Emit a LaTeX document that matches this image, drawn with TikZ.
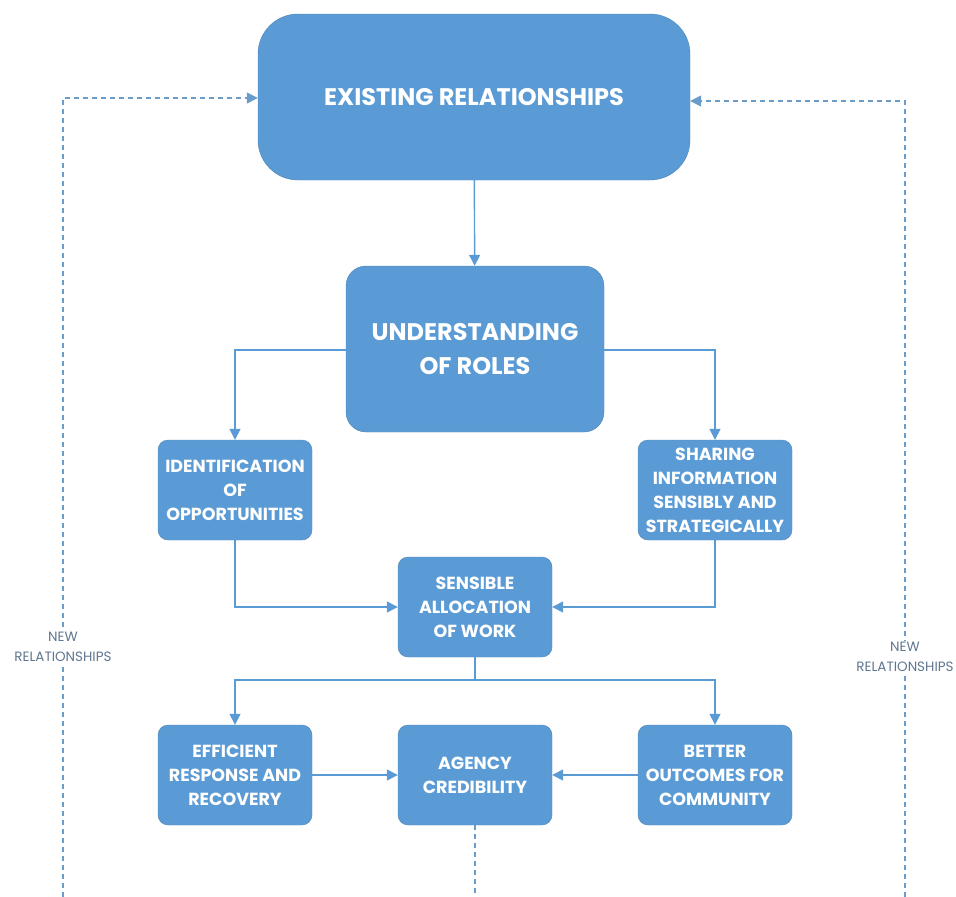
\documentclass[tikz,border=0pt]{standalone}
\usepackage{fontspec}
\setmainfont{Poppins}
\usetikzlibrary{arrows.meta}
\definecolor{boxblue}{HTML}{5B9BD5}
\definecolor{lineblue}{HTML}{5B9BD5}
\definecolor{dashblue}{HTML}{6A9CCB}
\definecolor{lblgray}{HTML}{5F7790}
\tikzset{
  bigbox/.style={fill=boxblue, draw=boxblue!85!black, line width=0.4pt, text=white, font=\bfseries\fontsize{24}{34}\selectfont, align=center, inner sep=0pt},
  smallbox/.style={fill=boxblue, draw=boxblue!85!black, line width=0.4pt, rounded corners=10pt, text=white, font=\bfseries\fontsize{17.5}{24}\selectfont, align=center, inner sep=0pt, minimum width=154pt, minimum height=100pt},
  conn/.style={draw=lineblue, line width=1.4pt, -{Triangle[length=11pt,width=11pt]}},
  dconn/.style={draw=dashblue, line width=1.4pt, dash pattern=on 5pt off 4pt},
  lbl/.style={fill=white, text=lblgray, font=\fontsize{13.5}{20}\selectfont, align=center, inner sep=1pt}
}
\begin{document}
\begin{tikzpicture}[x=1pt,y=-1pt]
\useasboundingbox (0,0) rectangle (956,897);
% boxes
\node[bigbox, rounded corners=40pt, minimum width=432pt, minimum height=166pt] (exist) at (474,97) {EXISTING RELATIONSHIPS};
\node[bigbox, rounded corners=20pt, minimum width=258pt, minimum height=166pt] (under) at (475,349) {UNDERSTANDING\\OF ROLES};
\node[smallbox] (ident) at (235,490) {IDENTIFICATION\\OF\\OPPORTUNITIES};
\node[smallbox] (share) at (715,490) {SHARING\\INFORMATION\\SENSIBLY AND\\STRATEGICALLY};
\node[smallbox] (sens) at (475,607) {SENSIBLE\\ALLOCATION\\OF WORK};
\node[smallbox] (eff) at (235,775) {EFFICIENT\\RESPONSE AND\\RECOVERY};
\node[smallbox] (agency) at (475,775) {AGENCY\\CREDIBILITY};
\node[smallbox] (better) at (715,775) {BETTER\\OUTCOMES FOR\\COMMUNITY};
% helper coordinates
\coordinate (bl) at (63,897);
\coordinate (bc) at (475,897);
\coordinate (br) at (905,897);
\coordinate (split) at (475,680);
% solid connectors
\draw[conn] (exist) -- (under);
\draw[conn] (under.west |- 0,350) -| (ident.north);
\draw[conn] (under.east |- 0,350) -| (share.north);
\draw[conn] (ident.south) |- (sens.west);
\draw[conn] (share.south) |- (sens.east);
\draw[draw=lineblue, line width=1.4pt] (sens.south) -- (split);
\draw[conn] (split) -| (eff.north);
\draw[conn] (split) -| (better.north);
\draw[conn] (eff) -- (agency);
\draw[conn] (better) -- (agency);
% dashed feedback
\draw[dconn] (agency.south) -- (bc);
\draw[dconn, -{Triangle[length=11pt,width=11pt]}] (bl) |- (exist.west |- 0,98);
\draw[dconn, -{Triangle[length=11pt,width=11pt]}] (br) |- (exist.east |- 0,101);
% labels
\node[lbl] (lblL) at (63,647) {NEW\\RELATIONSHIPS};
\node[lbl] (lblR) at (905,657) {NEW\\RELATIONSHIPS};
\end{tikzpicture}
\end{document}
